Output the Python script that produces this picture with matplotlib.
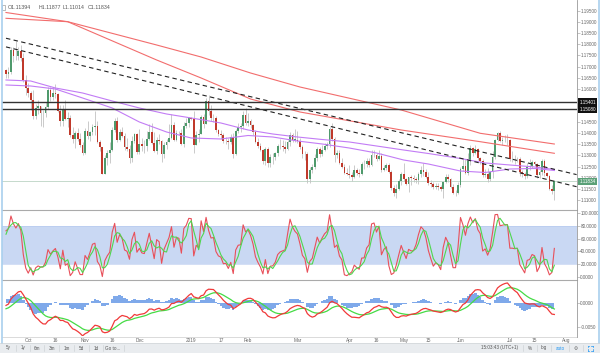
import numpy as np
import pandas as pd
import matplotlib
matplotlib.use("Agg")
import matplotlib.pyplot as plt
from matplotlib.patches import Rectangle
from matplotlib.lines import Line2D
import matplotlib.transforms as mtransforms

plt.rcParams['font.family'] = ['Liberation Sans', 'DejaVu Sans']

# --- EUR/USD daily. Warm-up bars (27 Aug - 17 Sep 2018) sit left of the view, only feed the indicators ---
warm_high = [1.1700, 1.1733, 1.1713, 1.1720, 1.1690, 1.1625, 1.1630, 1.1640,
             1.1650, 1.1640, 1.1610, 1.1640, 1.1650, 1.1720, 1.1720, 1.1690]
warm_low = [1.1610, 1.1667, 1.1655, 1.1650, 1.1590, 1.1570, 1.1530, 1.1530,
            1.1605, 1.1530, 1.1545, 1.1570, 1.1570, 1.1600, 1.1620, 1.1620]
warm_close = [1.1680, 1.1700, 1.1706, 1.1670, 1.1600, 1.1620, 1.1585, 1.1630,
              1.1625, 1.1550, 1.1595, 1.1600, 1.1625, 1.1690, 1.1625, 1.1685]

# visible bars 18 Sep 2018 - 25 Jul 2019 (one line per half month)
close = [
    1.1667, 1.1674, 1.1776, 1.1746, 1.1748, 1.1768, 1.1738, 1.1640, 1.1604,
    1.1580, 1.1549, 1.1476, 1.1513, 1.1524, 1.1491, 1.1490, 1.1519, 1.1595, 1.1561, 1.1580, 1.1577,
    1.1502, 1.1455, 1.1510, 1.1465, 1.1470, 1.1390, 1.1376, 1.1403, 1.1373, 1.1346, 1.1312,
    1.1408, 1.1388, 1.1407, 1.1427, 1.1431, 1.1360, 1.1336, 1.1218, 1.1288, 1.1310, 1.1326,
    1.1415, 1.1454, 1.1370, 1.1404, 1.1389, 1.1336, 1.1330, 1.1287, 1.1366, 1.1395, 1.1315,
    1.1352, 1.1343, 1.1342, 1.1375, 1.1407, 1.1354, 1.1318, 1.1371, 1.1365, 1.1305, 1.1346,
    1.1362, 1.1378, 1.1439, 1.1370, 1.1403, 1.1400, 1.1350, 1.1433, 1.1444, 1.1467,
    1.1466, 1.1345, 1.1393, 1.1395, 1.1475, 1.1443, 1.1543, 1.1500, 1.1468, 1.1470, 1.1413,
    1.1395, 1.1390, 1.1363, 1.1365, 1.1362, 1.1385, 1.1305, 1.1408, 1.1429, 1.1431, 1.1484, 1.1448,
    1.1455, 1.1436, 1.1406, 1.1361, 1.1341, 1.1325, 1.1274, 1.1327, 1.1264, 1.1294,
    1.1295, 1.1310, 1.1342, 1.1343, 1.1336, 1.1331, 1.1359, 1.1390, 1.1371, 1.1371,
    1.1364, 1.1338, 1.1307, 1.1307, 1.1194, 1.1236, 1.1247, 1.1288, 1.1328, 1.1305, 1.1325,
    1.1341, 1.1350, 1.1420, 1.1375, 1.1302, 1.1312, 1.1265, 1.1250, 1.1223, 1.1217,
    1.1212, 1.1205, 1.1233, 1.1223, 1.1216, 1.1262, 1.1263, 1.1275, 1.1255, 1.1300, 1.1303,
    1.1283, 1.1296, 1.1233, 1.1245, 1.1259, 1.1226, 1.1152, 1.1131, 1.1150, 1.1184, 1.1216,
    1.1193, 1.1172, 1.1202, 1.1197, 1.1192, 1.1190, 1.1215, 1.1234, 1.1225, 1.1205, 1.1174, 1.1172,
    1.1157, 1.1164, 1.1160, 1.1150, 1.1180, 1.1205, 1.1192, 1.1160, 1.1130, 1.1130, 1.1169,
    1.1240, 1.1252, 1.1223, 1.1275, 1.1333, 1.1311, 1.1327, 1.1288, 1.1273, 1.1210,
    1.1218, 1.1195, 1.1225, 1.1291, 1.1370, 1.1400, 1.1366, 1.1368, 1.1370, 1.1370,
    1.1285, 1.1285, 1.1283, 1.1285, 1.1226, 1.1215, 1.1207, 1.1250, 1.1253, 1.1270,
    1.1260, 1.1210, 1.1225, 1.1276, 1.1220, 1.1208, 1.1150, 1.1139, 1.11834,
]
high = [
    1.1690, 1.1700, 1.1788, 1.1790, 1.1815, 1.1790, 1.1798, 1.1760, 1.1660,
    1.1625, 1.1590, 1.1595, 1.1530, 1.1549, 1.1520, 1.1505, 1.1540, 1.1610, 1.1610, 1.1610, 1.1621,
    1.1580, 1.1525, 1.1525, 1.1548, 1.1495, 1.1480, 1.1430, 1.1410, 1.1422, 1.1402, 1.1360,
    1.1425, 1.1456, 1.1412, 1.1442, 1.1500, 1.1455, 1.1370, 1.1340, 1.1301, 1.1326, 1.1360,
    1.1426, 1.1468, 1.1472, 1.1420, 1.1430, 1.1400, 1.1380, 1.1345, 1.1388, 1.1402, 1.1400,
    1.1420, 1.1380, 1.1368, 1.1410, 1.1442, 1.1445, 1.1406, 1.1385, 1.1395, 1.1370, 1.1360,
    1.1373, 1.1440, 1.1485, 1.1450, 1.1415, 1.1410, 1.1420, 1.1450, 1.1470, 1.1472,
    1.1475, 1.1498, 1.1410, 1.1420, 1.1483, 1.1485, 1.1560, 1.1570, 1.1528, 1.1485, 1.1478,
    1.1420, 1.1415, 1.1400, 1.1385, 1.1380, 1.1395, 1.1402, 1.1420, 1.1447, 1.1445, 1.1500, 1.1514,
    1.1489, 1.1462, 1.1442, 1.1413, 1.1378, 1.1358, 1.1327, 1.1340, 1.1340, 1.1306,
    1.1310, 1.1317, 1.1353, 1.1372, 1.1368, 1.1366, 1.1368, 1.1405, 1.1402, 1.1420,
    1.1408, 1.1378, 1.1348, 1.1320, 1.1315, 1.1247, 1.1260, 1.1306, 1.1339, 1.1337, 1.1346,
    1.1354, 1.1362, 1.1427, 1.1448, 1.1385, 1.1325, 1.1323, 1.1290, 1.1260, 1.1242,
    1.1255, 1.1227, 1.1255, 1.1245, 1.1240, 1.1270, 1.1280, 1.1288, 1.1288, 1.1324, 1.1325,
    1.1310, 1.1323, 1.1310, 1.1255, 1.1265, 1.1268, 1.1235, 1.1165, 1.1173, 1.1195, 1.1225,
    1.1265, 1.1200, 1.1205, 1.1210, 1.1213, 1.1205, 1.1226, 1.1251, 1.1265, 1.1240, 1.1225, 1.1191,
    1.1180, 1.1174, 1.1177, 1.1168, 1.1185, 1.1215, 1.1215, 1.1200, 1.1170, 1.1146, 1.1179,
    1.1250, 1.1285, 1.1285, 1.1309, 1.1348, 1.1338, 1.1347, 1.1335, 1.1295, 1.1285,
    1.1240, 1.1245, 1.1228, 1.1318, 1.1375, 1.1405, 1.1412, 1.1385, 1.1394, 1.1395,
    1.1373, 1.1322, 1.1300, 1.1295, 1.1295, 1.1235, 1.1225, 1.1266, 1.1285, 1.1280,
    1.1275, 1.1268, 1.1233, 1.1283, 1.1282, 1.1227, 1.1211, 1.1165, 1.11877,
]
low = [
    1.1647, 1.1650, 1.1667, 1.1720, 1.1730, 1.1730, 1.1725, 1.1630, 1.1570,
    1.1565, 1.1504, 1.1465, 1.1463, 1.1485, 1.1432, 1.1430, 1.1475, 1.1510, 1.1545, 1.1550, 1.1560,
    1.1495, 1.1433, 1.1432, 1.1460, 1.1430, 1.1385, 1.1357, 1.1335, 1.1364, 1.1337, 1.1300,
    1.1305, 1.1373, 1.1366, 1.1392, 1.1390, 1.1355, 1.1318, 1.1216, 1.1216, 1.1255, 1.1265,
    1.1318, 1.1407, 1.1362, 1.1365, 1.1383, 1.1325, 1.1320, 1.1267, 1.1272, 1.1355, 1.1305,
    1.1305, 1.1320, 1.1310, 1.1320, 1.1370, 1.1350, 1.1315, 1.1305, 1.1350, 1.1270, 1.1290,
    1.1328, 1.1360, 1.1375, 1.1365, 1.1365, 1.1390, 1.1345, 1.1340, 1.1425, 1.1429,
    1.1460, 1.1309, 1.1345, 1.1360, 1.1395, 1.1422, 1.1440, 1.1484, 1.1455, 1.1450, 1.1406,
    1.1386, 1.1375, 1.1355, 1.1350, 1.1330, 1.1350, 1.1290, 1.1300, 1.1400, 1.1405, 1.1420, 1.1435,
    1.1433, 1.1425, 1.1393, 1.1355, 1.1333, 1.1318, 1.1262, 1.1257, 1.1250, 1.1249,
    1.1262, 1.1278, 1.1296, 1.1330, 1.1320, 1.1310, 1.1325, 1.1341, 1.1362, 1.1361,
    1.1355, 1.1327, 1.1290, 1.1280, 1.1176, 1.1178, 1.1220, 1.1240, 1.1276, 1.1293, 1.1298,
    1.1320, 1.1329, 1.1337, 1.1365, 1.1270, 1.1287, 1.1260, 1.1242, 1.1215, 1.1212,
    1.1200, 1.1184, 1.1200, 1.1210, 1.1205, 1.1210, 1.1240, 1.1250, 1.1250, 1.1253, 1.1295,
    1.1273, 1.1280, 1.1226, 1.1230, 1.1235, 1.1220, 1.1145, 1.1118, 1.1110, 1.1145, 1.1165,
    1.1185, 1.1165, 1.1135, 1.1165, 1.1180, 1.1175, 1.1172, 1.1205, 1.1208, 1.1198, 1.1165, 1.1160,
    1.1150, 1.1150, 1.1145, 1.1140, 1.1107, 1.1175, 1.1180, 1.1155, 1.1125, 1.1116, 1.1127,
    1.1160, 1.1230, 1.1215, 1.1210, 1.1255, 1.1299, 1.1305, 1.1280, 1.1262, 1.1202,
    1.1205, 1.1181, 1.1185, 1.1200, 1.1285, 1.1365, 1.1360, 1.1348, 1.1361, 1.1345,
    1.1277, 1.1270, 1.1260, 1.1270, 1.1207, 1.1205, 1.1193, 1.1198, 1.1236, 1.1245,
    1.1252, 1.1200, 1.1200, 1.1213, 1.1207, 1.1201, 1.1145, 1.1127, 1.11014,
]
last_open = 1.11394

ma_bars = [0, 10, 20, 31, 43, 54, 65, 75, 87, 98, 108, 118, 128, 139, 150, 161, 171, 184, 194, 204, 214, 222]
ma_purple_slow = [1.16395, 1.16350, 1.16035, 1.15810, 1.15450, 1.15135, 1.14865, 1.14685, 1.14460, 1.14145, 1.13965,
                  1.13830, 1.13717, 1.13605, 1.13425, 1.13244, 1.13087, 1.12862, 1.12660, 1.12570, 1.12480, 1.12367]
ma_purple_fast = [1.16170, 1.16125, 1.15990, 1.15585, 1.15135, 1.14505, 1.14055, 1.13785, 1.13740, 1.13897, 1.13830,
                  1.13650, 1.13515, 1.13334, 1.13109, 1.12794, 1.12614, 1.12299, 1.12232, 1.12389, 1.12412, 1.12322]
red_bars = [0, 25, 61, 79, 99, 119, 160, 192, 222]
ma_red_a = [1.19432, 1.19018, 1.17970, 1.17430, 1.16710, 1.16080, 1.15045, 1.13996, 1.13514]
ma_red_b = [1.19171, 1.19018, 1.17295, 1.16485, 1.15540, 1.14955, 1.14145, 1.13618, 1.13096]

# drawn trend lines and levels
trend_bars = [0, 231]
trend_upper = [1.18274, 1.12137]
trend_lower = [1.17884, 1.11593]
levels = [1.15401, 1.15080]

price_ticks = [1.110, 1.115, 1.120, 1.125, 1.130, 1.135, 1.140, 1.145,
               1.160, 1.165, 1.170, 1.175, 1.180, 1.185, 1.190, 1.195]
stoch_ticks = [0, 20, 40, 60, 80, 100]
macd_ticks = [0.0, -0.005]
date_ticks = ['2018-10-01', '2018-10-16', '2018-11-01', '2018-11-16', '2018-12-03', '2019-01-01',
              '2019-01-17', '2019-02-01', '2019-03-01', '2019-04-01', '2019-04-16', '2019-05-01',
              '2019-05-15', '2019-06-03', '2019-07-01', '2019-07-15', '2019-08-01']
date_labels = ['Oct', '16', 'Nov', '16', 'Dec', '2019', '17', 'Feb', 'Mar', 'Apr', '16', 'May',
               '15', 'Jun', 'Jul', '15', 'Aug']

# --- indicators ---
n_warm = len(warm_close)
all_close = pd.Series(warm_close + close)
all_high = pd.Series(warm_high + high)
all_low = pd.Series(warm_low + low)

hh = all_high.rolling(14).max()
ll = all_low.rolling(14).min()
stoch_k = 100 * (all_close - ll) / (hh - ll)
stoch_d = stoch_k.rolling(3).mean()

macd = all_close.ewm(span=12, adjust=False).mean() - all_close.ewm(span=26, adjust=False).mean()
signal = macd.ewm(span=9, adjust=False).mean()
hist = macd - signal

n = len(close)
x = np.arange(n)
c = np.array(close)
o = np.r_[warm_close[-1], c[:-1]]
o[-1] = last_open
h = np.maximum(np.array(high), np.maximum(o, c))
l = np.minimum(np.array(low), np.minimum(o, c))

days = pd.bdate_range('2018-09-18', '2019-08-02')
tick_pos = [days.get_loc(pd.Timestamp(d)) for d in date_ticks]

# --- figure, laid out in pixels ---
W, H = 600, 353
fig = plt.figure(figsize=(W / 100, H / 100), dpi=100)


def box(x0, y0, x1, y1):
    return [x0 / W, 1 - y1 / H, (x1 - x0) / W, (y1 - y0) / H]


ax_p = fig.add_axes(box(2, 1, 577, 210))
ax_s = fig.add_axes(box(2, 210, 577, 280))
ax_m = fig.add_axes(box(2, 280, 577, 336))
xlim = ((2 - 6) / 2.47, (577 - 6) / 2.47)

lab_col = '#666666'
for ax in (ax_p, ax_s, ax_m):
    ax.set_xlim(*xlim)
    ax.set_facecolor('white')
    for s in ax.spines.values():
        s.set_visible(False)
    ax.yaxis.tick_right()
    ax.tick_params(axis='y', length=1.8, width=0.4, color='#999999', pad=0.6,
                   labelsize=3.3, labelcolor=lab_col)
    ax.tick_params(axis='x', length=0, labelbottom=False)

# price panel
ax_p.set_ylim(1.195 - 199 / 2222, 1.195 + 10 / 2222)
green, red = '#4f9a6c', '#c0392b'
up = c >= o
ax_p.vlines(x, l, h, color='#c2c2c2', lw=0.6, zorder=2)
body = np.maximum(np.abs(c - o), 0.00008)
ax_p.bar(x, body, bottom=np.minimum(o, c), width=0.72,
         color=np.where(up, green, red), linewidth=0, zorder=3)

ax_p.plot(red_bars, ma_red_a, color='#f26d6d', lw=0.8, zorder=4)
ax_p.plot(red_bars, ma_red_b, color='#f26d6d', lw=0.8, zorder=4)
ax_p.plot(ma_bars, ma_purple_slow, color='#c27cf5', lw=0.8, zorder=4)
ax_p.plot(ma_bars, ma_purple_fast, color='#c27cf5', lw=0.8, zorder=4)
ax_p.plot(trend_bars, trend_upper, color='#222222', lw=0.8, ls=(0, (4, 3)), zorder=5)
ax_p.plot(trend_bars, trend_lower, color='#222222', lw=0.8, ls=(0, (4, 3)), zorder=5)
for lv in levels:
    ax_p.axhline(lv, color='#333333', lw=1.0, zorder=5)
ax_p.axhline(close[-1], color='#bcd3c4', lw=0.6, zorder=1)

ax_p.set_yticks(price_ticks)
ax_p.set_yticklabels([f"{v:.5f}" for v in price_ticks])

tr_p = mtransforms.blended_transform_factory(ax_p.transAxes, ax_p.transData)
for lv in levels:
    ax_p.text(1.004, lv, f"{lv:.5f}", transform=tr_p, fontsize=3.3, color='white',
              va='center', ha='left', clip_on=False, zorder=10,
              bbox=dict(boxstyle='square,pad=0.3', fc='#111111', ec='none'))
ax_p.text(1.004, close[-1], f"{close[-1]:.5f}", transform=tr_p, fontsize=3.3, color='white',
          va='center', ha='left', clip_on=False, zorder=10,
          bbox=dict(boxstyle='square,pad=0.25', fc='#5aa077', ec='none'))

# stochastic panel
ax_s.set_ylim((277 - 280) / 0.64, (277 - 210) / 0.64)
ax_s.axhspan(20, 80, color='#c9d8f3', lw=0, zorder=0)
ax_s.axhline(80, color='#b3c7ee', lw=0.4, zorder=0)
ax_s.axhline(20, color='#b3c7ee', lw=0.4, zorder=0)
ax_s.plot(x, stoch_k.iloc[n_warm:].values, color='#e8505a', lw=0.8, zorder=3)
ax_s.plot(x, stoch_d.iloc[n_warm:].values, color='#4fd64f', lw=0.8, zorder=4)
ax_s.set_yticks(stoch_ticks)
ax_s.set_yticklabels([f"{v:.4f}" for v in stoch_ticks])

# MACD panel
ax_m.set_ylim(-(336 - 302.7) / 4800, (302.7 - 280) / 4800)
hv = hist.iloc[n_warm:].values
ax_m.fill_between(x, 0, hv, color='#7fa9ea', lw=0, step='mid', zorder=1)
ax_m.plot(x, signal.iloc[n_warm:].values, color='#45db45', lw=0.9, zorder=3)
ax_m.plot(x, macd.iloc[n_warm:].values, color='#f03a3a', lw=0.9, zorder=4)
ax_m.set_yticks(macd_ticks)
ax_m.set_yticklabels(['0.0000', '-0.0050'])
ax_m.set_xticks(tick_pos)
ax_m.set_xticklabels(date_labels)
ax_m.tick_params(axis='x', length=0, pad=1.2, labelsize=3.4, labelcolor=lab_col, labelbottom=True)

# header
fig.patches.append(Rectangle((1.5 / W, 1 - 9.5 / H), 3.5 / W, 4.5 / H, transform=fig.transFigure,
                             fill=False, ec='#888888', lw=0.4))
for label, xp in zip(['O1.11394', 'H1.11877', 'L1.11014', 'C1.11834'], [8, 39, 63, 88]):
    fig.text(xp / W, 1 - 7.5 / H, label, fontsize=3.8, color='#555555', va='center', ha='left')


# frame, separators, axis line
def hline(y, x0, x1, color, lw):
    fig.add_artist(Line2D([x0 / W, x1 / W], [1 - y / H, 1 - y / H], color=color, lw=lw))


def vline(xp, y0, y1, color, lw):
    fig.add_artist(Line2D([xp / W, xp / W], [1 - y0 / H, 1 - y1 / H], color=color, lw=lw))


hline(210, 2, 577, '#aaaaaa', 0.8)
hline(280, 2, 577, '#aaaaaa', 0.8)
hline(336.5, 2, 577, '#cccccc', 0.5)
vline(577, 0, 337, '#999999', 0.6)
vline(1.5, 0, 343, '#a9d0ee', 1.2)
vline(598.5, 0, 343, '#a9d0ee', 1.2)

# bottom toolbar
fig.patches.append(Rectangle((0, 0), 1, 10 / H, transform=fig.transFigure,
                             fc='#e9ecef', ec='none'))
hline(343, 0, 600, '#d0d4d8', 0.5)
ty = 1 - 348 / H
for label, xp in zip(['5y', '1y', '6m', '3m', '1m', '5d', '1d', 'Go to...'],
                     [8.5, 22.7, 36.7, 51.7, 66.7, 81.7, 96, 113]):
    fig.text(xp / W, ty, label, fontsize=3.3, color='#555555', va='center', ha='center')
for xp in [15.5, 29.7, 44, 59, 74, 89, 103, 124]:
    vline(xp, 345, 351, '#c8ccd0', 0.4)
for label, xp, col in [('15:03:43 (UTC+1)', 500, '#555555'), ('%', 530, '#555555'),
                       ('log', 544, '#555555'), ('auto', 560, '#2196f3'), ('\u2699', 576, '#666666')]:
    fig.text(xp / W, ty, label, fontsize=3.3, color=col, va='center', ha='center')
for xp in [523, 537, 551, 569, 583]:
    vline(xp, 345, 351, '#c8ccd0', 0.4)
# fullscreen icon: four corner marks
for dx, dy in [(-1, -1), (1, -1), (-1, 1), (1, 1)]:
    cx, cy = 590 + dx * 2.5, 348 + dy * 2.5
    hline(cy, cx, cx - dx * 1.5, '#2196f3', 0.5)
    vline(cx, cy, cy - dy * 1.5, '#2196f3', 0.5)

fig.savefig('out.png', dpi=100)
